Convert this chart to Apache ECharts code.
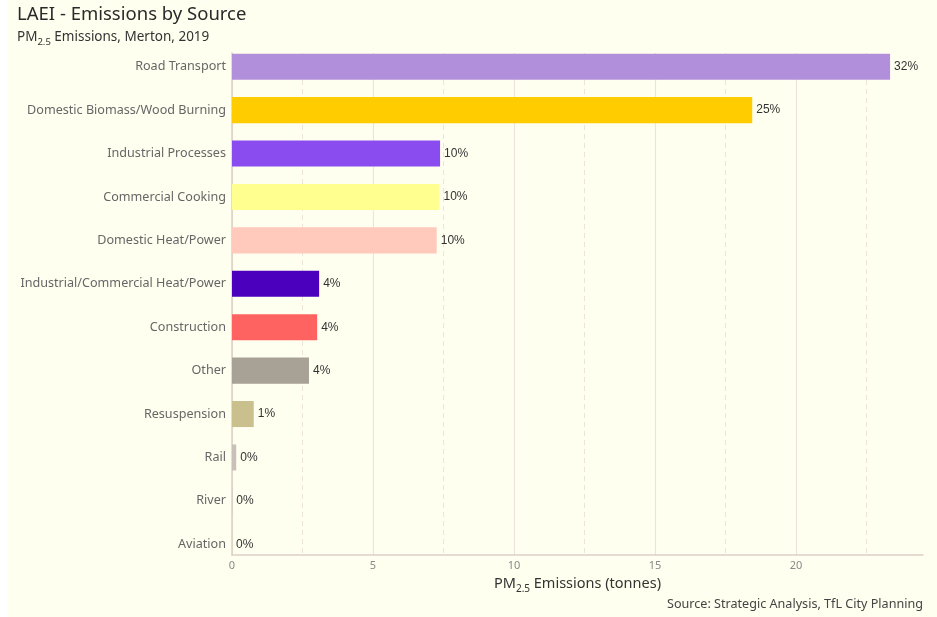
<!DOCTYPE html>
<html>
<head>
<meta charset="utf-8">
<script src="https://cdn.jsdelivr.net/npm/echarts@6/dist/echarts.min.js"></script>
<style>
  html, body { margin: 0; padding: 0; }
  body { background: linear-gradient(to right, #ffffff 0 7px, #fffff0 7px); }
  #chart { width: 937px; height: 617px; }
</style>
</head>
<body>
<div id="chart"></div>
<script>
// PM2.5 emissions by source, Merton 2019 (tonnes)
const sources = [
  'Road Transport',
  'Domestic Biomass/Wood Burning',
  'Industrial Processes',
  'Commercial Cooking',
  'Domestic Heat/Power',
  'Industrial/Commercial Heat/Power',
  'Construction',
  'Other',
  'Resuspension',
  'Rail',
  'River',
  'Aviation'
];
const tonnes = [23.34, 18.45, 7.38, 7.36, 7.26, 3.09, 3.02, 2.73, 0.77, 0.15, 0.01, 0];
const sourceColours = [
  '#b28fdb', '#ffcc00', '#8a4bef', '#ffff8f', '#ffc9bc', '#4b00bd',
  '#ff6361', '#a8a196', '#c9c08d', '#c9c1b9', '#c9c1b9', '#c9c1b9'
];
const xTicks = [0, 5, 10, 15, 20];
const xMinorTicks = [2.5, 7.5, 12.5, 17.5, 22.5];

const total = tonnes.reduce((a, b) => a + b, 0);
const xMax = Math.max(...tonnes) * 1.05;

const FONT = '"Noto Sans", sans-serif';
const gridColour = '#eee3da';
const axisColour = '#ddd0c5';

const chart = echarts.init(document.getElementById('chart'), null, { renderer: 'canvas' });

chart.setOption({
  backgroundColor: 'transparent',
  animation: false,
  textStyle: { fontFamily: FONT },
  title: [
    {
      text: 'LAEI - Emissions by Source',
      left: 17, top: 5, padding: 0,
      textStyle: { fontFamily: FONT, fontSize: 18.5, fontWeight: 'normal', color: '#2a2a2a' }
    },
    {
      text: '{a|PM}{s|2.5}{a| Emissions, Merton, 2019}',
      left: 17, top: 30, padding: 0,
      textStyle: {
        fontWeight: 'normal',
        rich: {
          a: { fontFamily: FONT, fontSize: 13.5, fontWeight: 'normal', color: '#333', lineHeight: 17, verticalAlign: 'top' },
          s: { fontFamily: FONT, fontSize: 9.5, fontWeight: 'normal', color: '#333', lineHeight: 12, padding: [7, 0, 0, 0], verticalAlign: 'top' }
        }
      }
    },
    {
      text: 'Source: Strategic Analysis, TfL City Planning',
      right: 14, bottom: 6, padding: 0,
      textStyle: { fontFamily: FONT, fontSize: 12.6, fontWeight: 'normal', color: '#444' }
    }
  ],
  grid: [
    // frame: axis lines and vertical gridlines
    { left: 232, right: 14, top: 53, bottom: 62 },
    // bars
    { left: 232, right: 14, top: 45, bottom: 51 }
  ],
  xAxis: [
    {
      gridIndex: 0, type: 'value', min: 0, max: xMax,
      axisLine: { show: true, lineStyle: { color: axisColour, width: 1.5 } },
      axisTick: { show: false, customValues: xTicks },
      axisLabel: { customValues: xTicks, color: '#8a8a8a', fontSize: 11, margin: 5, fontFamily: FONT },
      splitLine: { show: true, lineStyle: { color: gridColour, width: 1.2 } },
      name: '{a|PM}{s|2.5}{a| Emissions (tonnes)}',
      nameLocation: 'middle', nameGap: 17,
      nameTextStyle: {
        rich: {
          a: { fontFamily: FONT, fontSize: 14.5, color: '#333', lineHeight: 17, verticalAlign: 'top' },
          s: { fontFamily: FONT, fontSize: 10, color: '#333', lineHeight: 12, padding: [8, 0, 0, 0], verticalAlign: 'top' }
        }
      }
    },
    {
      gridIndex: 0, type: 'value', min: 0, max: xMax,
      axisLine: { show: false },
      axisTick: { show: false, customValues: xMinorTicks },
      axisLabel: { show: false, customValues: xMinorTicks },
      splitLine: { show: true, lineStyle: { color: gridColour, width: 1, type: [5, 4] } }
    },
    {
      gridIndex: 1, type: 'value', min: 0, max: xMax, show: false
    }
  ],
  yAxis: [
    {
      gridIndex: 0, type: 'value', min: 0, max: 1,
      axisLine: { show: true, lineStyle: { color: axisColour, width: 1.5 } },
      axisTick: { show: false },
      axisLabel: { show: false },
      splitLine: { show: false }
    },
    {
      gridIndex: 1, type: 'category', data: sources, inverse: true,
      axisLine: { show: false },
      axisTick: { show: false },
      axisLabel: { color: '#666', fontSize: 12.6, margin: 6, fontFamily: FONT },
      splitLine: { show: false }
    }
  ],
  series: [
    {
      type: 'bar',
      xAxisIndex: 2, yAxisIndex: 1,
      barWidth: '60%',
      data: tonnes.map((v, i) => ({ value: v, itemStyle: { color: sourceColours[i] } })),
      label: {
        show: true, position: 'right', distance: 4,
        fontFamily: '"Liberation Sans", Arial, sans-serif', fontSize: 12, color: '#333',
        formatter: p => Math.round(p.value / total * 100) + '%'
      }
    }
  ]
});
</script>
</body>
</html>
